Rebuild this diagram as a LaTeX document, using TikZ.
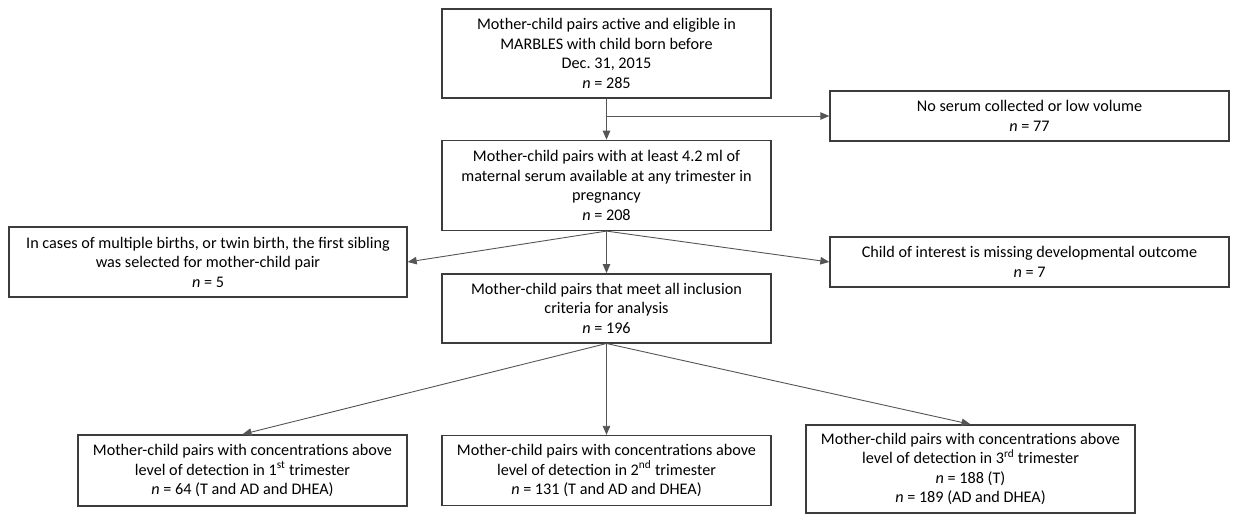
\documentclass[tikz,border=0pt]{standalone}
\usepackage{fontspec}
\setmainfont{Carlito}
\usepackage{tikz}
\usetikzlibrary{positioning,arrows.meta,calc}
\definecolor{boxline}{HTML}{3C3C3C}
\definecolor{arrline}{HTML}{555555}
\frenchspacing

\begin{document}
\begin{tikzpicture}[
    x=1pt, y=-1pt,
    node distance=41pt and 59pt,
    box/.style={draw=boxline, line width=1.4pt, fill=white, inner sep=0pt, minimum width=329pt, align=center, font=\fontsize{16.2}{19.5}\selectfont},
    arr/.style={-{Triangle[length=9pt, width=7.5pt]}, line width=0.9pt, arrline}
  ]
    \useasboundingbox (0,0) rectangle (1233,515);

    \node[box, minimum height=89pt] (top) at (606.5,53.5) {Mother-child pairs active and eligible in\\MARBLES with child born before\\Dec. 31, 2015\\\textit{n} = 285};
    \node[box, minimum height=90pt, below=41pt of top] (avail) {Mother-child pairs with at least 4.2 ml of\\maternal serum available at any trimester in\\pregnancy\\\textit{n} = 208};
    \node[box, minimum height=69pt, below=42pt of avail] (incl) {Mother-child pairs that meet all inclusion\\criteria for analysis\\\textit{n} = 196};

    \node[box, minimum width=399pt, minimum height=50pt] (serum) at (1029.5,116) {No serum collected or low volume\\\textit{n} = 77};
    \node[box, minimum width=399pt, minimum height=50pt] (missing) at (1029.5,262) {Child of interest is missing developmental outcome\\\textit{n} = 7};
    \node[box, minimum width=398pt, minimum height=70pt] (twin) at (208,262) {In cases of multiple births, or twin birth, the first sibling\\was selected for mother-child pair\\\textit{n} = 5};

    \node[box, minimum height=71pt] (tri1) at (242.5,470.5) {Mother-child pairs with concentrations above\\level of detection in 1\textsuperscript{st} trimester\\\textit{n} = 64 (T and AD and DHEA)};
    \node[box, minimum height=70pt] (tri2) at (606.5,470.5) {Mother-child pairs with concentrations above\\level of detection in 2\textsuperscript{nd} trimester\\\textit{n} = 131 (T and AD and DHEA)};
    \node[box, minimum height=88pt] (tri3) at (970.5,469) {Mother-child pairs with concentrations above\\level of detection in 3\textsuperscript{rd} trimester\\\textit{n} = 188 (T)\\\textit{n} = 189 (AD and DHEA)};

    \coordinate (split) at (top.south |- serum.west);
    \draw[arr] (top) -- (avail);
    \draw[arr] (split) -- (serum.west);
    \draw[arr] (avail.south) -- (twin.east);
    \draw[arr] (avail.south) -- (missing.west);
    \draw[arr] (avail) -- (incl);
    \draw[arr] (incl.south) -- (tri1.north);
    \draw[arr] (incl.south) -- (tri2.north);
    \draw[arr] (incl.south) -- (tri3.north);
\end{tikzpicture}
\end{document}
